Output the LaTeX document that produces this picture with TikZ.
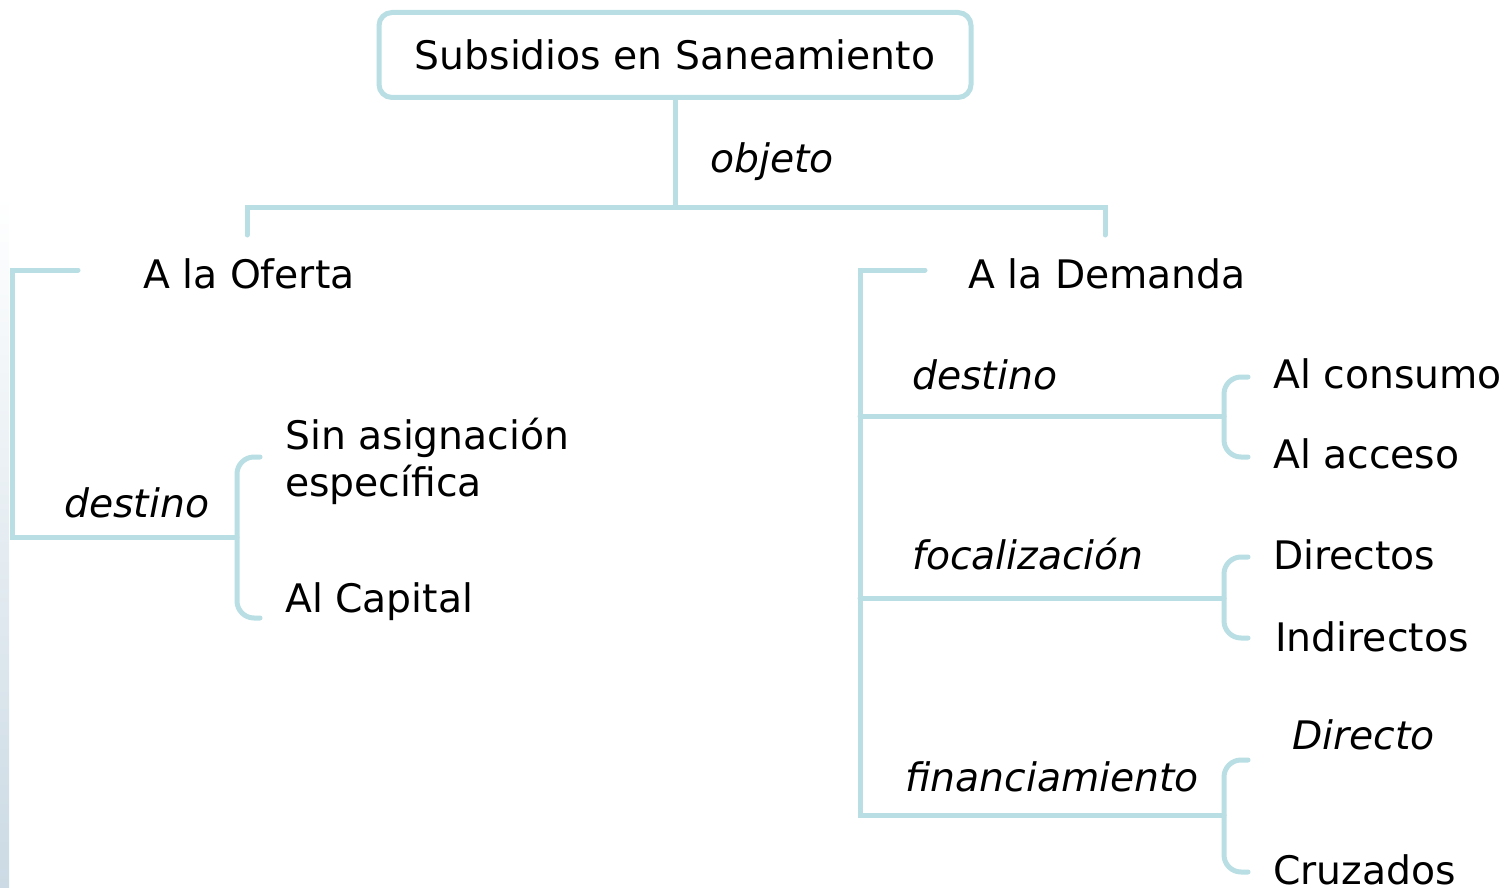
\documentclass[tikz,border=0pt]{standalone}
\usepackage{fontspec}
\setmainfont{DejaVu Sans}
\definecolor{linecol}{RGB}{185,222,227}
\definecolor{edgecol}{RGB}{203,218,228}
\begin{document}
\begin{tikzpicture}[x=1pt,y=-1pt,
    conn/.style={draw=linecol,line width=5pt,line cap=round},
    brace/.style={conn,rounded corners=17pt},
    item/.style={anchor=base west,inner sep=0pt,font=\fontsize{39.3}{46}\selectfont},
    rel/.style={item,font=\fontsize{39.3}{46}\selectfont\itshape},
    root/.style={draw=linecol,line width=5pt,rounded corners=13pt,
        minimum width=592pt,minimum height=85pt,inner sep=0pt,
        font=\fontsize{39.3}{46}\selectfont}
    ]
\useasboundingbox (0,0) rectangle (1502,888);
\shade[top color=white,bottom color=edgecol] (0,195) rectangle (9,888);

\node[root] (root) at (675,55) {Subsidios en Saneamiento};
\node[rel] (objeto) at (710,172) {objeto};
\node[item] (oferta) at (143,288) {A la Oferta};
\node[item] (demanda) at (968,288) {A la Demanda};

% lado de la oferta
\node[rel] (odestino) at (64,517) {destino};
\node[item] (sinasig) at (285,449) {Sin asignación};
\node[item] (especif) at (285,496) {específica};
\node[item] (capital) at (285,612) {Al Capital};

% lado de la demanda
\node[rel] (ddestino) at (912,389) {destino};
\node[rel] (focal) at (912,569) {focalización};
\node[rel] (financ) at (905,791) {financiamiento};
\node[item] (consumo) at (1273,388) {Al consumo};
\node[item] (acceso) at (1273,468) {Al acceso};
\node[item] (directos) at (1273,569) {Directos};
\node[item] (indirectos) at (1275,651) {Indirectos};
\node[rel] (directo) at (1292,749) {Directo};
\node[item] (cruzados) at (1273,884) {Cruzados};

\coordinate (split) at (675,207);
\coordinate (lt) at (247,235);
\coordinate (rt) at (1105,235);
\draw[conn] (root.south) -- (split);
\draw[conn] (lt) -- (lt|-split) -- (rt|-split) -- (rt);

% rama izquierda
\coordinate (ofs) at (78,270);
\coordinate (ofl) at (12,270);
\coordinate (ofb) at (237,537);
\draw[conn] (ofs) -- (ofl) |- (ofb);
\draw[brace] (260,457) -| (ofb) |- (260,618);

% rama derecha
\coordinate (dms) at (925,270);
\coordinate (dml) at (860,270);
\coordinate (b1) at (1224,416);
\coordinate (b2) at (1224,598);
\coordinate (b3) at (1224,815);
\draw[conn] (dms) -- (dml) |- (b3);
\draw[conn] (dml|-b1) -- (b1);
\draw[conn] (dml|-b2) -- (b2);
\draw[brace] (1248,377) -| (b1) |- (1248,457);
\draw[brace] (1248,557) -| (b2) |- (1248,638);
\draw[brace] (1248,760) -| (b3) |- (1248,872);
\end{tikzpicture}
\end{document}
